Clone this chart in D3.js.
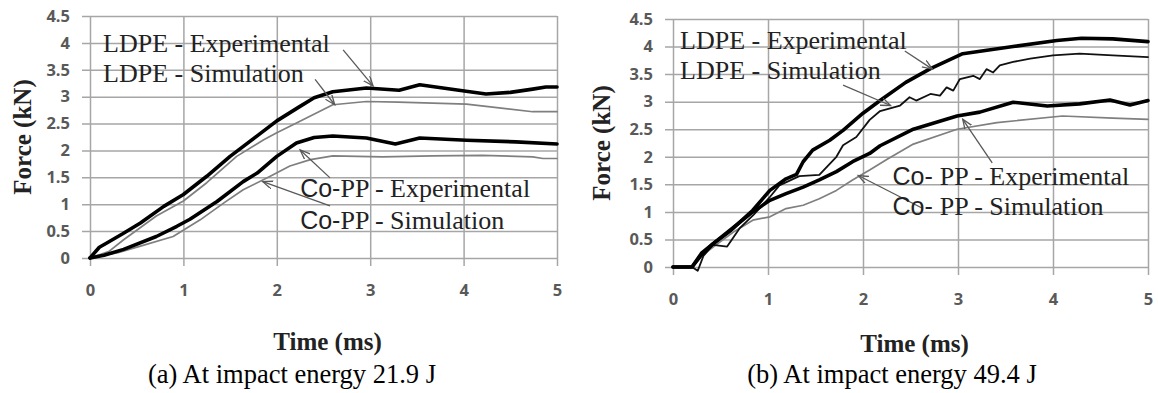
<!DOCTYPE html>
<html>
<head>
<meta charset="utf-8">
<script src="https://cdn.jsdelivr.net/npm/d3@7"></script>
<style>
  body { margin: 0; background: #fff; }
  svg { display: block; }
</style>
</head>
<body>
<svg id="chart" width="1158" height="393"></svg>
<script>
// axis ticks
const xTicks = [0, 1, 2, 3, 4, 5];
const yTicks = [0, 0.5, 1, 1.5, 2, 2.5, 3, 3.5, 4, 4.5];

// (a) impact energy 21.9 J  -- [time ms, force kN]
const aLdpeExp = [[0,0],[0.1,0.2],[0.18,0.28],[0.35,0.45],[0.54,0.65],[0.79,0.96],[1.0,1.18],[1.25,1.52],[1.5,1.89],[1.79,2.27],[2.0,2.55],[2.24,2.81],[2.4,2.98],[2.6,3.09],[2.96,3.16],[3.31,3.12],[3.53,3.22],[3.95,3.12],[4.24,3.05],[4.5,3.08],[4.74,3.14],[4.88,3.18],[5.0,3.18]];
const aLdpeSim = [[0,0],[0.2,0.12],[0.36,0.34],[0.71,0.78],[1.0,1.06],[1.25,1.4],[1.57,1.89],[1.86,2.2],[2.0,2.33],[2.2,2.5],[2.36,2.64],[2.6,2.85],[2.96,2.91],[3.3,2.9],[3.67,2.88],[4.03,2.86],[4.38,2.79],[4.74,2.72],[5.0,2.72]];
const aCoppExp = [[0,0],[0.15,0.05],[0.36,0.16],[0.71,0.4],[0.93,0.59],[1.07,0.72],[1.36,1.05],[1.64,1.42],[1.79,1.58],[2.0,1.89],[2.21,2.14],[2.4,2.24],[2.6,2.27],[2.96,2.23],[3.27,2.12],[3.53,2.23],[4.03,2.19],[4.56,2.16],[5.0,2.12]];
const aCoppSim = [[0,0],[0.3,0.1],[0.54,0.22],[0.89,0.4],[1.18,0.71],[1.43,1.02],[1.64,1.27],[1.93,1.52],[2.14,1.71],[2.36,1.83],[2.6,1.9],[3.13,1.88],[3.67,1.9],[4.2,1.91],[4.74,1.88],[4.85,1.85],[5.0,1.85]];

// (b) impact energy 49.4 J
const bLdpeExp = [[0,0],[0.2,0],[0.3,0.25],[0.42,0.42],[0.6,0.65],[0.84,1.03],[1.02,1.39],[1.19,1.6],[1.3,1.68],[1.37,1.91],[1.47,2.12],[1.65,2.3],[1.79,2.48],[2.0,2.79],[2.18,3.02],[2.45,3.35],[2.71,3.6],[3.05,3.87],[3.58,4.0],[4.04,4.11],[4.3,4.15],[4.63,4.14],[5.0,4.09]];
const bLdpeSim = [[0,0],[0.2,0],[0.26,-0.07],[0.32,0.2],[0.42,0.4],[0.57,0.37],[0.7,0.7],[0.85,0.95],[1.02,1.27],[1.12,1.48],[1.33,1.65],[1.54,1.67],[1.72,2.0],[1.79,2.21],[1.93,2.36],[2.07,2.67],[2.18,2.83],[2.39,2.93],[2.49,3.08],[2.56,3.02],[2.71,3.14],[2.81,3.11],[2.88,3.26],[2.95,3.2],[3.02,3.41],[3.16,3.47],[3.23,3.41],[3.3,3.59],[3.37,3.53],[3.44,3.66],[3.58,3.72],[3.76,3.78],[4.0,3.84],[4.28,3.87],[4.63,3.84],[5.0,3.81]];
const bCoppExp = [[0,0],[0.2,0],[0.3,0.22],[0.42,0.42],[0.6,0.67],[0.84,1.0],[1.02,1.21],[1.19,1.33],[1.37,1.45],[1.54,1.58],[1.72,1.73],[1.89,1.91],[2.07,2.06],[2.18,2.2],[2.53,2.5],[2.99,2.74],[3.23,2.81],[3.58,2.99],[3.94,2.92],[4.28,2.96],[4.6,3.03],[4.81,2.94],[5.0,3.02]];
const bCoppSim = [[0,0],[0.2,0],[0.3,0.2],[0.45,0.4],[0.65,0.65],[0.84,0.85],[1.02,0.91],[1.19,1.06],[1.37,1.12],[1.54,1.24],[1.72,1.39],[1.89,1.58],[2.07,1.76],[2.25,1.95],[2.53,2.23],[2.99,2.5],[3.41,2.62],[4.1,2.74],[4.63,2.7],[5.0,2.68]];

// annotations: label anchor and arrow (from -> to), in data units
const aNotes = [
  {pre: "", text: "LDPE - Experimental", at: [0.14, 3.83], from: [2.71, 3.87], to: [3.03, 3.2]},
  {pre: "", text: "LDPE - Simulation", at: [0.14, 3.28], from: [2.41, 3.32], to: [2.62, 2.85]},
  {pre: "Co-", text: "PP - Experimental", at: [2.25, 1.14], from: [2.57, 1.49], to: [2.25, 2.01]},
  {pre: "Co-", text: "PP - Simulation", at: [2.25, 0.54], from: [2.57, 0.97], to: [1.85, 1.42]}
];
const bNotes = [
  {pre: "", text: "LDPE - Experimental", at: [0.074, 3.95], from: [2.44, 3.92], to: [2.73, 3.59]},
  {pre: "", text: "LDPE - Simulation", at: [0.074, 3.41], from: [1.79, 3.3], to: [2.29, 2.93]},
  {pre: "Co- ", text: "PP - Experimental", at: [2.31, 1.49], from: [3.36, 1.89], to: [3.05, 2.68]},
  {pre: "Co- ", text: "PP - Simulation", at: [2.31, 0.95], from: [2.62, 1.07], to: [1.95, 1.66]}
];

const panels = [
  {
    caption: "(a) At impact energy 21.9 J",
    x0: 90, x1: 557, yTop: 16, yBot: 258,
    titleX: 31, timeY: 350, capX: 292,
    series: [
      {data: aLdpeSim, color: "#7f7f7f", width: 1.7},
      {data: aCoppSim, color: "#7f7f7f", width: 1.7},
      {data: aLdpeExp, color: "#000", width: 3.6},
      {data: aCoppExp, color: "#000", width: 3.6}
    ],
    notes: aNotes
  },
  {
    caption: "(b) At impact energy 49.4 J",
    x0: 673, x1: 1148, yTop: 19, yBot: 267,
    titleX: 610, timeY: 352, capX: 892,
    series: [
      {data: bCoppSim, color: "#7f7f7f", width: 1.7},
      {data: bLdpeSim, color: "#111", width: 1.8},
      {data: bLdpeExp, color: "#000", width: 3.6},
      {data: bCoppExp, color: "#000", width: 3.6}
    ],
    notes: bNotes
  }
];

const svg = d3.select("#chart");

svg.append("defs").append("marker")
  .attr("id", "head")
  .attr("markerUnits", "userSpaceOnUse")
  .attr("markerWidth", 14)
  .attr("markerHeight", 14)
  .attr("refX", 10)
  .attr("refY", 4)
  .attr("orient", "auto")
  .append("path")
  .attr("d", "M0,0 L10,4 L0,8")
  .attr("fill", "none")
  .attr("stroke", "#595959")
  .attr("stroke-width", 1.3);

panels.forEach(p => {
  const x = d3.scaleLinear([0, 5], [p.x0, p.x1]);
  const y = d3.scaleLinear([0, 4.5], [p.yBot, p.yTop]);
  const g = svg.append("g");

  const tickText = s => s.selectAll("text")
    .attr("fill", "#595959")
    .attr("font-family", "'Open Sans', sans-serif")
    .attr("font-weight", 700)
    .attr("font-size", 16.5);

  // horizontal grid + y labels
  g.append("g")
    .attr("transform", `translate(${p.x0 - 8},0)`)
    .call(d3.axisLeft(y).tickValues(yTicks).tickFormat(d3.format("")).tickSizeInner(-(p.x1 - p.x0 + 8)).tickSizeOuter(0).tickPadding(12))
    .call(s => s.select(".domain").remove())
    .call(s => s.selectAll("line").attr("stroke", "#a6a6a6").attr("stroke-width", 1.5))
    .call(tickText);

  // vertical grid + x labels
  g.append("g")
    .attr("transform", `translate(0,${p.yBot + 8})`)
    .call(d3.axisBottom(x).tickValues(xTicks).tickFormat(d3.format("")).tickSizeInner(-(p.yBot - p.yTop + 8)).tickSizeOuter(0).tickPadding(18))
    .call(s => s.select(".domain").remove())
    .call(s => s.selectAll("line").attr("stroke", "#a6a6a6").attr("stroke-width", 1.5))
    .call(tickText);

  const line = d3.line()
    .x(d => x(d[0]))
    .y(d => y(d[1]));

  p.series.forEach(s => {
    g.append("path")
      .datum(s.data)
      .attr("fill", "none")
      .attr("stroke", s.color)
      .attr("stroke-width", s.width)
      .attr("stroke-linejoin", "round")
      .attr("stroke-linecap", "round")
      .attr("d", line);
  });

  // arrows
  g.selectAll(".arrow")
    .data(p.notes)
    .join("line")
    .attr("class", "arrow")
    .attr("x1", d => x(d.from[0]))
    .attr("y1", d => y(d.from[1]))
    .attr("x2", d => x(d.to[0]))
    .attr("y2", d => y(d.to[1]))
    .attr("stroke", "#595959")
    .attr("stroke-width", 1.3)
    .attr("marker-end", "url(#head)");

  // labels
  const lab = g.selectAll(".lab")
    .data(p.notes)
    .join("text")
    .attr("class", "lab")
    .attr("x", d => x(d.at[0]))
    .attr("y", d => y(d.at[1]))
    .attr("fill", "#222")
    .attr("font-size", 26)
    .attr("font-family", "'Liberation Serif', 'Times New Roman', serif");
  lab.append("tspan")
    .attr("font-family", "'Liberation Sans', sans-serif")
    .attr("font-size", 25)
    .text(d => d.pre);
  lab.append("tspan")
    .text(d => d.text);

  // axis titles
  g.append("text")
    .attr("transform", `translate(${p.titleX},${(p.yTop + p.yBot) / 2}) rotate(-90)`)
    .attr("text-anchor", "middle")
    .attr("font-family", "'Liberation Serif', serif")
    .attr("font-weight", "bold")
    .attr("font-size", 25)
    .attr("fill", "#222")
    .text("Force (kN)");

  g.append("text")
    .attr("x", (p.x0 + p.x1) / 2 + 4)
    .attr("y", p.timeY)
    .attr("text-anchor", "middle")
    .attr("font-family", "'Liberation Serif', serif")
    .attr("font-weight", "bold")
    .attr("font-size", 25)
    .attr("fill", "#222")
    .text("Time (ms)");

  g.append("text")
    .attr("x", p.capX)
    .attr("y", 383)
    .attr("text-anchor", "middle")
    .attr("font-family", "'Liberation Serif', serif")
    .attr("font-size", 26.5)
    .attr("fill", "#000")
    .text(p.caption);
});
</script>
</body>
</html>
